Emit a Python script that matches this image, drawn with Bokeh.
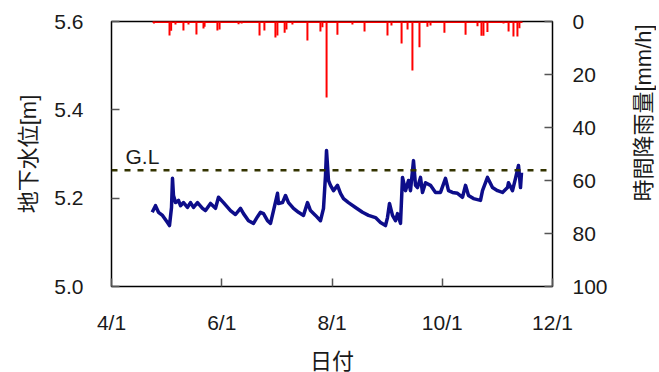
from bokeh.plotting import figure
from bokeh.layouts import row
from bokeh.models import Range1d, LinearAxis, FixedTicker, Span, Label, NumeralTickFormatter
from bokeh.embed import file_html
from bokeh.resources import INLINE

# --- data -------------------------------------------------------------
# days counted from 4/1
gw_day = [22.52, 24.34, 26.00, 28.22, 30.98, 32.09, 33.20, 33.75, 34.30, 35.41,
          37.07, 38.18, 39.84, 42.05, 43.71, 45.37, 47.58, 50.35, 52.01, 54.78,
          57.54, 59.20, 61.97, 65.84, 68.61, 71.37, 73.03, 75.80, 78.57, 80.78,
          82.44, 84.10, 86.31, 87.97, 89.63, 91.85, 92.40, 94.61, 96.27, 97.93,
          100.70, 103.47, 106.23, 108.45, 110.10, 112.87, 115.64, 117.30, 118.40, 118.96,
          120.06, 121.17, 122.83, 125.04, 126.70, 128.36, 131.13, 135.00, 138.87, 142.20,
          146.07, 148.83, 151.60, 152.71, 153.81, 155.47, 157.13, 158.24, 159.90, 161.01,
          162.67, 164.33, 165.43, 167.09, 168.20, 169.31, 170.97, 172.07, 173.73, 176.50,
          179.26, 182.03, 184.80, 186.46, 188.67, 191.44, 194.20, 195.86, 197.52, 200.29,
          204.16, 205.27, 208.03, 210.80, 213.57, 216.34, 219.10, 219.66, 221.87, 223.53,
          225.19, 226.30, 226.85]
gw_level = [5.168, 5.183, 5.168, 5.161, 5.145, 5.138, 5.179, 5.245, 5.206, 5.190,
            5.195, 5.183, 5.190, 5.179, 5.190, 5.179, 5.190, 5.177, 5.172, 5.188,
            5.177, 5.202, 5.190, 5.172, 5.163, 5.177, 5.165, 5.149, 5.143, 5.158,
            5.168, 5.165, 5.149, 5.143, 5.172, 5.211, 5.188, 5.190, 5.206, 5.190,
            5.177, 5.168, 5.161, 5.190, 5.172, 5.161, 5.149, 5.177, 5.251, 5.308,
            5.240, 5.229, 5.217, 5.229, 5.211, 5.199, 5.190, 5.179, 5.168, 5.161,
            5.156, 5.145, 5.138, 5.156, 5.188, 5.161, 5.149, 5.165, 5.143, 5.247,
            5.217, 5.240, 5.217, 5.285, 5.229, 5.224, 5.247, 5.213, 5.235, 5.229,
            5.213, 5.213, 5.245, 5.217, 5.213, 5.211, 5.202, 5.229, 5.206, 5.199,
            5.195, 5.217, 5.247, 5.224, 5.217, 5.213, 5.224, 5.235, 5.217, 5.245,
            5.274, 5.224, 5.258]

rain_day = [23.5, 32.1, 33.0, 35.4, 39.8, 42.6, 47.0, 50.9, 51.5, 58.6,
            59.8, 70.3, 72.0, 81.9, 84.6, 90.7, 91.8, 95.8, 96.8, 100.1,
            108.4, 115.6, 116.7, 119.0, 125.0, 133.3, 140.0, 152.7, 154.9, 160.5,
            163.8, 166.5, 170.4, 174.8, 176.5, 184.2, 195.9, 202.5, 204.7, 205.8,
            208.0, 216.9, 219.7, 222.4, 224.6, 225.7]
rain_mm = [0.8, 5.3, 3.5, 1.1, 3.4, 1.1, 4.9, 2.6, 2.0, 3.4,
           3.0, 1.0, 0.8, 5.3, 3.4, 6.0, 5.3, 4.2, 3.0, 1.1,
           7.2, 3.8, 2.2, 28.7, 5.0, 1.1, 3.8, 5.3, 1.5, 8.3,
           3.0, 18.5, 9.7, 2.0, 1.5, 4.2, 5.0, 1.8, 5.4, 5.4,
           4.0, 0.8, 3.8, 5.7, 5.7, 2.5]
rain_period = [22.7, 227.4]

gl_level = 5.263

tick_days = [0, 61, 122, 183, 244]
tick_labels = ["4/1", "6/1", "8/1", "10/1", "12/1"]
left_ticks = [5.0, 5.2, 5.4, 5.6]
right_ticks = [0, 20, 40, 60, 80, 100]
right_title = "時間降雨量[mm/h]"

# --- figure -----------------------------------------------------------
FONT = "'Liberation Sans', 'Noto Sans CJK JP', sans-serif"
FIG_H = 370

p = figure(frame_width=441, frame_height=265,
           min_border_left=111, min_border_right=78,
           min_border_top=21, min_border_bottom=84,
           x_range=Range1d(tick_days[0], tick_days[-1]),
           y_range=Range1d(left_ticks[0], left_ticks[-1]),
           output_backend="svg", toolbar_location=None)
p.background_fill_color = "white"
p.border_fill_color = "white"
p.outline_line_color = "black"
p.outline_line_width = 1.5
p.xgrid.visible = False
p.ygrid.visible = False

p.extra_y_ranges = {"rain": Range1d(right_ticks[-1], right_ticks[0])}
ax_r = LinearAxis(y_range_name="rain", ticker=FixedTicker(ticks=right_ticks))
p.add_layout(ax_r, "right")

p.xaxis.ticker = FixedTicker(ticks=tick_days)
p.xaxis.major_label_overrides = {d: s for d, s in zip(tick_days, tick_labels)}
p.xaxis.axis_label = "日付"
p.yaxis[0].ticker = FixedTicker(ticks=left_ticks)
p.yaxis[0].formatter = NumeralTickFormatter(format="0.0")
p.yaxis[0].axis_label = "地下水位[m]"

for ax in [p.xaxis[0], p.yaxis[0], ax_r]:
    ax.axis_line_color = None
    ax.major_tick_in = 8
    ax.major_tick_out = 0
    ax.minor_tick_line_color = None
    ax.major_tick_line_color = "#555555"
    ax.major_tick_line_width = 1.5
    ax.major_label_text_font = FONT
    ax.major_label_text_font_size = "21px"
    ax.major_label_text_color = "#1a1a1a"
    ax.axis_label_text_font = FONT
    ax.axis_label_text_font_size = "22px"
    ax.axis_label_text_font_style = "normal"
    ax.axis_label_text_color = "#1a1a1a"

p.yaxis[0].major_label_standoff = 28
p.yaxis[0].axis_label_standoff = 10
ax_r.major_label_standoff = 20
p.xaxis[0].major_label_standoff = 24
p.xaxis[0].axis_label_standoff = 12

# rainfall (hanging from the top, right axis)
p.line(rain_period, [0, 0], y_range_name="rain", line_color="#ff0000", line_width=3)
p.segment(x0=rain_day, y0=[0] * len(rain_day), x1=rain_day, y1=rain_mm,
          y_range_name="rain", line_color="#ff0000", line_width=2)

# ground level
p.add_layout(Span(location=gl_level, dimension="width", line_color="#333300",
                  line_width=2.5, line_dash="6 7"))
p.add_layout(Label(x=tick_days[0], y=gl_level, x_offset=14, y_offset=2, text="G.L",
                   text_font=FONT, text_font_size="21px", text_color="#1a1a1a"))

# groundwater level
p.line(gw_day, gw_level, line_color="#0d0d8a", line_width=3.5, line_join="round")

# --- right-axis title (reads bottom-to-top, like the left one) ---------
side = figure(width=26, height=FIG_H, x_range=Range1d(0, 1), y_range=Range1d(0, 1),
              min_border=0, output_backend="svg", toolbar_location=None)
side.axis.visible = False
side.grid.visible = False
side.outline_line_color = None
side.background_fill_color = "white"
side.border_fill_color = "white"
side.add_layout(Label(x=0.5, y=0.5, y_offset=38, text=right_title,
                      angle=90, angle_units="deg",
                      text_align="center", text_baseline="middle",
                      text_font=FONT, text_font_size="22px", text_color="#1a1a1a"))

layout = row(p, side)
open("out.html", "w").write(file_html(layout, INLINE))
